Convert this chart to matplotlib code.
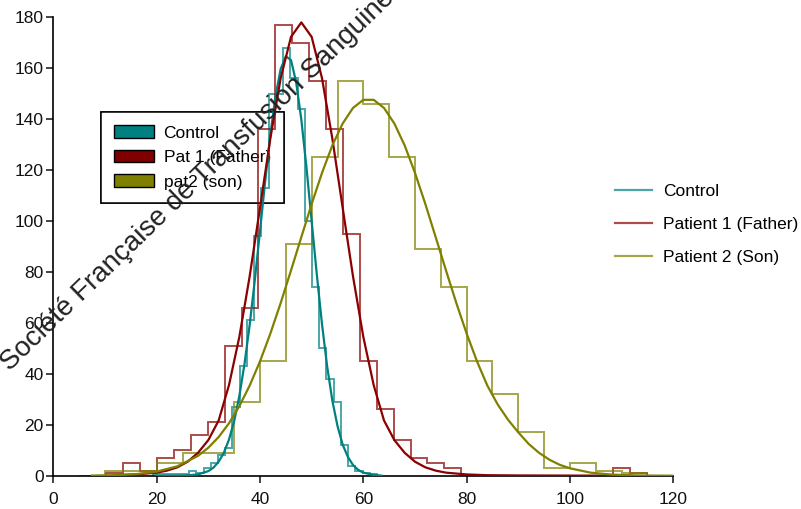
import numpy as np
import matplotlib
matplotlib.use("Agg")
import matplotlib.pyplot as plt
from matplotlib.patches import Patch
from matplotlib.lines import Line2D

plt.rcParams['font.family'] = ['Liberation Sans', 'DejaVu Sans']

# histogram bins: first edge, bin width and counts
ctrl_start, ctrl_width = 19.27, 1.4
ctrl_counts = [0.5, 0.5, 0.5, 0.5, 0.5, 2, 1, 3, 5, 8, 11, 27, 43, 61, 94, 113,
               150, 150, 168, 156, 144, 100, 74, 50, 38, 29, 12, 4, 2, 1, 0.5]

fath_start, fath_width = 10.27, 3.27
fath_counts = [1, 5, 2, 7, 10, 16, 21, 51, 66, 136, 177, 170, 155, 136, 95, 45,
               26, 14, 7, 5, 3, 0, 0, 0, 0, 0, 0, 0, 0, 0, 3, 1]

son_start, son_width = 5, 5
son_counts = [0, 2, 2, 5, 9, 9, 29, 45, 91, 125, 155, 146, 125, 89, 74, 45,
              32, 17, 3, 5, 2, 1, 0]

# fitted curves
ctrl_x = [20, 24, 26, 28, 30, 31, 32, 33, 34, 35, 36, 37, 38, 39, 40, 41, 42, 43,
          44, 45, 46, 47, 48, 49, 50, 51, 52, 53, 54, 55, 56, 57, 58, 59, 60, 62, 63.5]
ctrl_y = [0.0, 0.03, 0.13, 0.52, 1.8, 3.2, 5.5, 9.0, 14.2, 21.4, 31.3, 43.9, 59.2,
          76.9, 96.1, 115.6, 133.8, 149.0, 159.7, 164.7, 163.2, 154.5, 139.8, 120.9,
          99.9, 78.9, 59.5, 42.9, 29.5, 19.5, 12.2, 7.4, 4.2, 2.3, 1.2, 0.3, 0.05]

fath_x = [12, 16, 20, 22, 24, 26, 28, 30, 32, 34, 36, 38, 40, 42, 44, 46, 48, 50,
          52, 54, 56, 58, 60, 62, 64, 66, 68, 70, 72, 74, 76, 80, 84, 90, 100, 112]
fath_y = [0.2, 0.5, 1.2, 2.0, 3.3, 5.5, 9, 14, 21.7, 35.6, 54.5, 78.3, 105.2, 132.4,
          156.1, 172.3, 178, 172.3, 156.1, 132.4, 105.2, 78.3, 54.5, 35.6, 21.7, 14,
          9, 5.5, 3.3, 2.0, 1.2, 0.5, 0.2, 0.1, 0.05, 0.02]

son_x = [7.5, 12, 16, 20, 24, 28, 30, 32, 34, 36, 38, 40, 42, 44, 46, 48, 50, 52,
         54, 56, 58, 60, 62, 64, 66, 68, 70, 72, 74, 76, 78, 80, 82, 84, 86, 88, 90,
         92, 94, 96, 98, 100, 104, 108, 112, 116, 120]
son_y = [0.07, 0.22, 0.62, 1.6, 3.7, 7.8, 11.0, 15.2, 20.6, 27.3, 35.4, 44.9, 55.8,
         67.8, 80.6, 93.7, 106.7, 118.9, 129.7, 138.3, 144.4, 147.6, 147.6, 144.4,
         138.3, 129.7, 118.9, 106.7, 93.7, 80.6, 67.8, 55.8, 44.9, 35.4, 28, 22, 17,
         12.5, 9, 6.3, 4.3, 2.9, 1.2, 0.45, 0.15, 0.05, 0.01]

c_ctrl, c_fath, c_son = '#008080', '#8b0000', '#808000'

fig = plt.figure(figsize=(8.01, 5.09), dpi=100)
ax = fig.add_axes([0.0666, 0.0654, 0.774, 0.9006])

for start, width, counts, col in [(ctrl_start, ctrl_width, ctrl_counts, c_ctrl),
                                  (fath_start, fath_width, fath_counts, c_fath),
                                  (son_start, son_width, son_counts, c_son)]:
    edges = start + width * np.arange(len(counts) + 1)
    ax.stairs(counts, edges, color=col, alpha=0.7, lw=1.4, zorder=2)

ax.plot(ctrl_x, ctrl_y, color=c_ctrl, lw=1.6, zorder=3)
ax.plot(fath_x, fath_y, color=c_fath, lw=1.6, zorder=3)
ax.plot(son_x, son_y, color=c_son, lw=1.6, zorder=3)

ax.set_xlim(0, 120)
ax.set_ylim(0, 180)
ax.set_xticks(range(0, 121, 20))
ax.set_yticks(range(0, 181, 20))
for s in ['top', 'right']:
    ax.spines[s].set_visible(False)
for s in ['left', 'bottom']:
    ax.spines[s].set_linewidth(1.2)
ax.tick_params(labelsize=12.5, length=5, width=1.1, colors='#111111')
ax.tick_params(axis='y', pad=2)
ax.tick_params(axis='x', pad=7)

# legend inside the plot
h1 = [Patch(facecolor=c, edgecolor='black', lw=1) for c in ('#008080', '#800000', '#808000')]
leg = ax.legend(h1, ['Control', 'Pat 1 (Father)', 'pat2 (son)'], loc='upper left',
                bbox_to_anchor=(0.077, 0.793), borderaxespad=0, fontsize=12.5,
                handlelength=2.3, handleheight=0.75, handletextpad=0.55,
                borderpad=0.75, labelspacing=0.52, fancybox=False, framealpha=1,
                edgecolor='black')
leg.get_frame().set_linewidth(1.1)
leg.set_zorder(1)
ax.add_artist(leg)

# legend for the fitted curves, right of the plot
h2 = [Line2D([], [], color=c, alpha=0.7, lw=1.6) for c in (c_ctrl, c_fath, c_son)]
fig.legend(h2, ['Control', 'Patient 1 (Father)', 'Patient 2 (Son)'], loc='center left',
           bbox_to_anchor=(0.768, 0.559), borderaxespad=0, borderpad=0, frameon=False,
           fontsize=12.5, handlelength=2.1, handletextpad=0.65, labelspacing=1.05)

fig.text(0.012, 0.27, 'Société Française de Transfusion Sanguine', fontsize=20,
         rotation=44, rotation_mode='anchor', ha='left', va='baseline',
         color='#222222', zorder=10)

fig.savefig('out.png', dpi=100)
